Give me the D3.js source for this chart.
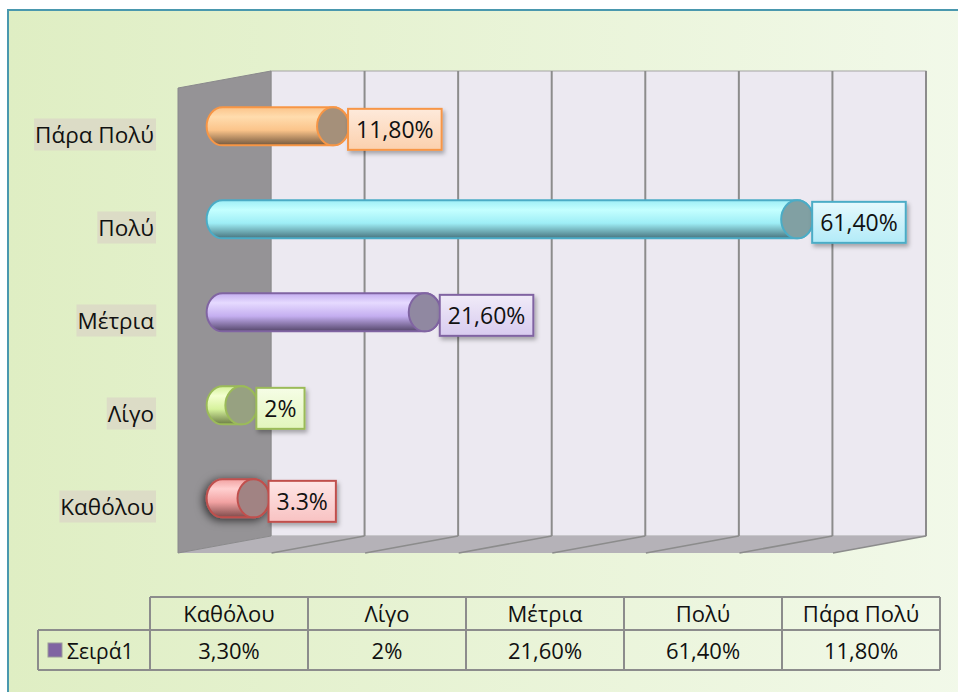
<!DOCTYPE html>
<head>
  <meta charset="utf-8">
  <title>Σειρά1</title>
  <script src="https://d3js.org/d3.v7.min.js"></script>
  <style>
    html, body { margin: 0; padding: 0; overflow: hidden; background: #fff; }
    svg { display: block; overflow: hidden; }
    text { font-family: "Open Sans", "Noto Sans", sans-serif; fill: #111; }
  </style>
</head>
<body>
  <svg width="958" height="692"></svg>
  <script>
    // data
    const categories = ["Καθόλου", "Λίγο", "Μέτρια", "Πολύ", "Πάρα Πολύ"];
    const values     = [0.033, 0.02, 0.216, 0.614, 0.118];
    const barLabels  = ["3.3%", "2%", "21,60%", "61,40%", "11,80%"];
    const tableLabels = ["3,30%", "2%", "21,60%", "61,40%", "11,80%"];
    const seriesName = "Σειρά1";
    const gridTicks  = [0, 0.1, 0.2, 0.3, 0.4, 0.5, 0.6, 0.7];

    // colour per category (stroke, light, mid, dark, label box top, label box bottom)
    const palette = [
      {stroke: "#c0504d", light: "#ffd0d0", mid: "#f2a2a2", dark: "#7e4a4a", boxA: "#fee6e6", boxB: "#f8c2c2"},
      {stroke: "#9bbb59", light: "#f4ffd0", mid: "#d6f29c", dark: "#6c7c46", boxA: "#f6fde6", boxB: "#e2f6bc"},
      {stroke: "#8064a2", light: "#e6daff", mid: "#c4aef0", dark: "#54466a", boxA: "#f0ebf8", boxB: "#d8cbef"},
      {stroke: "#4bacc6", light: "#c4ffff", mid: "#9eeef6", dark: "#48747e", boxA: "#e6f9fd", boxB: "#b2ebf8"},
      {stroke: "#f79646", light: "#ffdcae", mid: "#fbc48a", dark: "#74583e", boxA: "#feeadb", boxB: "#fbd0ad"}
    ];

    const svg = d3.select("svg");
    const defs = svg.append("defs");

    const bg = defs.append("linearGradient").attr("id", "bg").attr("x1", 0).attr("x2", 1).attr("y1", 0).attr("y2", 0);
    bg.append("stop").attr("offset", "0%").attr("stop-color", "#dfeec3");
    bg.append("stop").attr("offset", "100%").attr("stop-color", "#f2f9ea");

    const shadow = defs.append("filter").attr("id", "shadow").attr("x", "-20%").attr("y", "-20%").attr("width", "150%").attr("height", "160%");
    shadow.append("feDropShadow").attr("dx", 2).attr("dy", 3).attr("stdDeviation", 2).attr("flood-color", "#000").attr("flood-opacity", 0.3);

    const glow = defs.append("filter").attr("id", "glow").attr("x", "-40%").attr("y", "-60%").attr("width", "180%").attr("height", "220%");
    glow.append("feDropShadow").attr("dx", -2).attr("dy", 2).attr("stdDeviation", 5).attr("flood-color", "#000").attr("flood-opacity", 0.7);

    palette.forEach((p, i) => {
      const g = defs.append("linearGradient").attr("id", "bar" + i).attr("x1", 0).attr("x2", 0).attr("y1", 0).attr("y2", 1);
      g.append("stop").attr("offset", "0%").attr("stop-color", p.mid);
      g.append("stop").attr("offset", "25%").attr("stop-color", p.light);
      g.append("stop").attr("offset", "60%").attr("stop-color", p.mid);
      g.append("stop").attr("offset", "100%").attr("stop-color", p.dark);
      const b = defs.append("linearGradient").attr("id", "box" + i).attr("x1", 0).attr("x2", 0).attr("y1", 0).attr("y2", 1);
      b.append("stop").attr("offset", "0%").attr("stop-color", p.boxA);
      b.append("stop").attr("offset", "100%").attr("stop-color", p.boxB);
    });

    // chart area frame (runs off the right and bottom edges)
    svg.append("rect").attr("x", 8).attr("y", 10).attr("width", 980).attr("height", 720)
      .attr("fill", "url(#bg)").attr("stroke", "#4a98ae").attr("stroke-width", 2);

    // 3D box geometry
    const wall = {left: 271, right: 926, top: 71, bottom: 536};
    const depth = {dx: -93, dy: 17};
    const barDepth = 0.52;

    const x = d3.scaleLinear().domain([0, 0.7]).range([wall.left, wall.right]);
    const y = d3.scaleBand().domain(categories.slice().reverse()).range([wall.top, wall.bottom]);

    const chart = svg.append("g");

    // back wall
    chart.append("rect").attr("x", wall.left).attr("y", wall.top)
      .attr("width", wall.right - wall.left).attr("height", wall.bottom - wall.top)
      .attr("fill", "#ece9f1").attr("stroke", "#a4a4a4").attr("stroke-width", 1);

    // floor
    chart.append("path")
      .attr("d", `M${wall.left},${wall.bottom}L${wall.right},${wall.bottom}L${wall.right + depth.dx},${wall.bottom + depth.dy}L${wall.left + depth.dx},${wall.bottom + depth.dy}Z`)
      .attr("fill", "#b5b2b8");

    // side wall
    chart.append("path")
      .attr("d", `M${wall.left + depth.dx},${wall.top + depth.dy}L${wall.left},${wall.top}L${wall.left},${wall.bottom}L${wall.left + depth.dx},${wall.bottom + depth.dy}Z`)
      .attr("fill", "#959396").attr("stroke", "#8a898c").attr("stroke-width", 1);

    // gridlines on back wall and floor
    chart.selectAll(".grid").data(gridTicks.slice(1)).enter().append("line")
      .attr("class", "grid")
      .attr("x1", d => x(d)).attr("x2", d => x(d))
      .attr("y1", wall.top).attr("y2", wall.bottom)
      .attr("stroke", "#8c8c8c").attr("stroke-width", 2);
    chart.selectAll(".fgrid").data(gridTicks.slice(1)).enter().append("line")
      .attr("class", "fgrid")
      .attr("x1", d => x(d)).attr("x2", d => x(d) + depth.dx)
      .attr("y1", wall.bottom).attr("y2", wall.bottom + depth.dy)
      .attr("stroke", "#8c8c8c").attr("stroke-width", 1.5);

    // category labels (at front of the box)
    const labG = svg.append("g");
    categories.forEach((c, i) => {
      const cy = y(c) + y.bandwidth() / 2 + depth.dy;
      const t = labG.append("text").attr("x", 154).attr("y", cy).attr("dy", "0.36em")
        .attr("text-anchor", "end").style("font-size", "22.5px").text(c);
      const bb = t.node().getBBox();
      labG.insert("rect", "text").attr("x", bb.x - 1).attr("y", cy - 16).attr("width", bb.width + 3).attr("height", 32)
        .attr("fill", "#dcdcc6");
    });

    // cylinders
    const ox = depth.dx * barDepth, oy = depth.dy * barDepth;
    const rx = 16, ry = 19;
    const bars = svg.append("g");
    categories.forEach((c, i) => {
      const p = palette[i];
      const x0 = x(0) + ox, x1 = x(values[i]) + ox;
      const cy = y(c) + y.bandwidth() / 2 + oy;
      const g = bars.append("g");
      if (i === 0) g.attr("filter", "url(#glow)");
      g.append("path")
        .attr("d", `M${x0},${cy - ry}L${x1},${cy - ry}A${rx},${ry} 0 0 1 ${x1},${cy + ry}L${x0},${cy + ry}A${rx},${ry} 0 0 1 ${x0},${cy - ry}Z`)
        .attr("fill", `url(#bar${i})`).attr("stroke", p.stroke).attr("stroke-width", 2);
      g.append("ellipse").attr("cx", x1).attr("cy", cy).attr("rx", rx).attr("ry", ry)
        .attr("fill", d3.interpolateRgb(p.mid, "#707070")(0.62)).attr("stroke", p.stroke).attr("stroke-width", 2);
    });

    // value label boxes
    const boxes = svg.append("g");
    categories.forEach((c, i) => {
      const p = palette[i];
      const bx = x(values[i]) + ox + rx - 1;
      const cy = y(c) + y.bandwidth() / 2 + oy + 3;
      const g = boxes.append("g");
      const t = g.append("text").attr("x", bx + 8).attr("y", cy).attr("dy", "0.36em")
        .style("font-size", "23px").text(barLabels[i]);
      const w = t.node().getComputedTextLength() + 16;
      g.insert("rect", "text").attr("x", bx).attr("y", cy - 20.5).attr("width", w).attr("height", 41)
        .attr("fill", `url(#box${i})`).attr("stroke", p.stroke).attr("stroke-width", 2)
        .attr("filter", "url(#shadow)");
    });

    // data table
    const table = {left: 150, right: 940, top: 597, mid: 630, bottom: 670, legendLeft: 38};
    const col = d3.scaleBand().domain(categories).range([table.left, table.right]);
    const tg = svg.append("g");
    const line = (x1, y1, x2, y2) => tg.append("line").attr("x1", x1).attr("y1", y1).attr("x2", x2).attr("y2", y2)
      .attr("stroke", "#8c8c8c").attr("stroke-width", 2);
    line(table.left, table.top, table.right, table.top);
    line(table.legendLeft, table.mid, table.right, table.mid);
    line(table.legendLeft, table.bottom, table.right, table.bottom);
    line(table.legendLeft, table.mid, table.legendLeft, table.bottom);
    categories.forEach(c => line(col(c), table.top, col(c), table.bottom));
    line(table.right, table.top, table.right, table.bottom);

    tg.selectAll(".hd").data(categories).enter().append("text")
      .attr("x", d => col(d) + col.bandwidth() / 2).attr("y", (table.top + table.mid) / 2 + 1)
      .attr("dy", "0.36em").attr("text-anchor", "middle").style("font-size", "22px").text(d => d);
    tg.selectAll(".vl").data(tableLabels).enter().append("text")
      .attr("x", (d, i) => col(categories[i]) + col.bandwidth() / 2).attr("y", (table.mid + table.bottom) / 2 + 1)
      .attr("dy", "0.36em").attr("text-anchor", "middle").style("font-size", "22px").text(d => d);

    // legend key
    tg.append("rect").attr("x", 48).attr("y", 643).attr("width", 14).attr("height", 14)
      .attr("fill", "#8064a2").attr("stroke", "#9a9a9a").attr("stroke-width", 1);
    tg.append("text").attr("x", 67).attr("y", (table.mid + table.bottom) / 2 + 1).attr("dy", "0.36em")
      .style("font-size", "21px").text(seriesName);
  </script>
</body>
